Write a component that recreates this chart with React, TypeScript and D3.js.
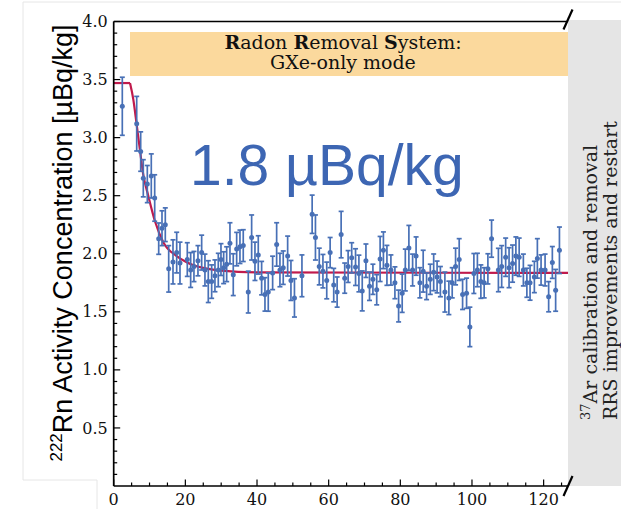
import React from "react";
import * as d3 from "d3";

// ---- data ----
const days = [
  2.4, 6.42, 7.53, 8.26, 9.38, 10.49, 11.44, 12.56, 13.48, 14.4,
  15.35, 16.55, 17.58, 18.5, 20.54, 21.48, 22.4, 23.52, 24.55, 25.47,
  26.4, 27.34, 28.26, 29.19, 29.94, 30.69, 31.53, 32.45, 33.37, 34.32,
  35.24, 36.16, 37.56, 38.5, 39.43, 40.35, 41.29, 42.22, 43.14, 44.36,
  45.48, 46.4, 47.32, 48.55, 49.47, 50.45, 52.54, 55.39, 56.31, 57.37,
  58.4, 59.46, 60.41, 61.41, 62.36, 63.48, 64.48, 65.43, 66.43, 67.5,
  68.44, 69.37, 70.4, 71.4, 72.35, 73.41, 74.36, 75.28, 76.26, 77.37,
  78.49, 79.52, 80.52, 81.39, 82.39, 83.43, 84.4, 85.46, 86.38, 87.33,
  88.36, 89.31, 90.26, 91.18, 92.44, 93.55, 94.48, 95.42, 96.43, 97.38,
  98.49, 99.41, 100.53, 101.51, 102.48, 103.4, 104.44, 105.47, 107.37, 108.29,
  109.4, 110.35, 111.33, 112.25, 113.17, 114.34, 115.32, 116.21, 117.41, 118.25,
  119.28, 120.4, 121.4, 122.43, 123.35, 124.41,
];
const activity = [
  3.27, 3.12, 2.88, 2.65, 2.6, 2.67, 2.48, 2.13, 2.22, 2.25,
  1.87, 1.93, 2.01, 1.92, 1.95, 1.86, 1.89, 1.94, 2.01, 1.86,
  1.76, 1.76, 1.81, 1.86, 1.95, 1.88, 1.91, 2.09, 1.82, 2.04,
  2.06, 2.07, 1.67, 2.14, 1.935, 1.99, 1.79, 1.65, 1.67, 1.835,
  2.08, 1.86, 1.88, 1.98, 1.77, 1.62, 1.81, 2.34, 2.14, 1.89,
  1.85, 1.77, 2.01, 1.73, 1.67, 2.165, 1.79, 1.89, 1.965, 1.885,
  1.83, 1.68, 1.94, 1.72, 1.78, 1.69, 1.955, 2.03, 1.9, 1.86,
  1.75, 1.55, 1.66, 1.86, 2.05, 1.86, 1.98, 1.75, 1.85, 1.72,
  1.78, 1.84, 1.8, 1.76, 1.67, 1.62, 1.75, 1.89, 1.95, 1.65,
  1.66, 1.37, 1.83, 1.86, 1.76, 1.75, 1.87, 2.13, 1.86, 1.89,
  1.97, 1.88, 1.915, 1.98, 1.97, 1.86, 1.75, 1.75, 1.8, 1.96,
  1.86, 1.86, 1.63, 1.925, 1.685, 2.03,
];
const activityErr = [
  0.25, 0.235, 0.17, 0.16, 0.16, 0.19, 0.2, 0.135, 0.15, 0.145,
  0.2, 0.19, 0.175, 0.18, 0.145, 0.15, 0.13, 0.13, 0.15, 0.137,
  0.18, 0.144, 0.137, 0.144, 0.137, 0.137, 0.15, 0.177, 0.18, 0.144,
  0.144, 0.137, 0.18, 0.194, 0.165, 0.165, 0.144, 0.144, 0.165, 0.144,
  0.187, 0.144, 0.144, 0.172, 0.172, 0.165, 0.18, 0.165, 0.194, 0.158,
  0.144, 0.158, 0.13, 0.144, 0.13, 0.2, 0.13, 0.137, 0.13, 0.158,
  0.158, 0.172, 0.144, 0.122, 0.13, 0.13, 0.194, 0.158, 0.172, 0.13,
  0.137, 0.137, 0.165, 0.18, 0.194, 0.137, 0.165, 0.13, 0.18, 0.115,
  0.13, 0.158, 0.137, 0.13, 0.172, 0.144, 0.13, 0.158, 0.18, 0.13,
  0.13, 0.17, 0.172, 0.144, 0.144, 0.13, 0.13, 0.16, 0.187, 0.18,
  0.165, 0.172, 0.16, 0.165, 0.165, 0.137, 0.125, 0.15, 0.135, 0.17,
  0.13, 0.137, 0.13, 0.137, 0.18, 0.2,
];
// fitted model curve
const plateauX = [0, 4.55];
const plateauY = [3.47, 3.47];
const decayX = [4.55, 5.47, 6.42, 7.34, 8.26, 9.65, 11.52, 13.84, 17.58, 20.5, 24.64, 30, 40, 126.8];
const decayY = [3.47, 3.33, 3.11, 2.89, 2.68, 2.5, 2.28, 2.1, 1.98, 1.925, 1.88, 1.855, 1.84, 1.835];

const xMajorTicks = [0, 20, 40, 60, 80, 100, 120];
const yMajorTicks = [0.5, 1.0, 1.5, 2.0, 2.5, 3.0, 3.5, 4.0];
const X_MAX = 126.8;
const Y_MAX = 4;

const boxLine1 = [
  { t: "R", b: true }, { t: "adon ", b: false },
  { t: "R", b: true }, { t: "emoval ", b: false },
  { t: "S", b: true }, { t: "ystem:", b: false },
];
const boxLine2 = "GXe-only mode";
const bigText = "1.8 µBq/kg";
const sideLine1 = "Ar calibration and removal";
const sideLine2 = "RRS improvements and restart";

const BLUE = "#4870b6";
const RED = "#c01a4c";
const SERIF = "'DejaVu Serif', serif";
const SANS = "'Liberation Sans', Arial, sans-serif";

export default function App() {
  const W = 621, H = 509;
  const left = 113.7, right = 568, top = 21.5, bottom = 486;
  const x = d3.scaleLinear().domain([0, X_MAX]).range([left, right]);
  const y = d3.scaleLinear().domain([0, Y_MAX]).range([bottom, top]);

  const xMinor = d3.range(0, 126, 5).filter((v) => v % 20 !== 0);
  const yMinor = d3.range(1, 40).map((v) => v / 10).filter((v) => Math.round(v * 10) % 5 !== 0);

  const plateauPath = d3
    .line<[number, number]>()
    .x((d) => x(d[0]))
    .y((d) => y(d[1]))(plateauX.map((v, i) => [v, plateauY[i]]));
  const decayPath = d3
    .line<[number, number]>()
    .x((d) => x(d[0]))
    .y((d) => y(d[1]))
    .curve(d3.curveMonotoneX)(decayX.map((v, i) => [v, decayY[i]]));

  const points = days.map((d, i) => ({ d, v: activity[i], e: activityErr[i] }));

  return (
    <svg width={W} height={H} style={{ position: "absolute", left: 0, top: 0, background: "#fff" }}>
      {/* faint screenshot frame */}
      <path d="M23,2 H621 M23,2 V480 H97 V509" fill="none" stroke="#e6e6e6" strokeWidth={1} />

      {/* gray band */}
      <rect x={right} y={20} width={W - right} height={bottom - 20} fill="#e5e5e5" />

      {/* orange box */}
      <rect x={130} y={32} width={right - 130} height={44} fill="#fbd99d" />
      <text x={343} y={49} textAnchor="middle" fontFamily={SERIF} fontSize={19} fill="#111">
        {boxLine1.map((s, i) => (
          <tspan key={i} fontWeight={s.b ? "bold" : "normal"}>{s.t}</tspan>
        ))}
      </text>
      <text x={343} y={69} textAnchor="middle" fontFamily={SERIF} fontSize={19} fill="#111">
        {boxLine2}
      </text>

      {/* big label */}
      <text x={190} y={185} fontFamily={SANS} fontSize={57} fill="#3d66b3">{bigText}</text>

      {/* fit curve */}
      <path d={plateauPath || ""} fill="none" stroke={RED} strokeWidth={2.2} />
      <path d={decayPath || ""} fill="none" stroke={RED} strokeWidth={2.2} />

      {/* data with error bars */}
      <g stroke={BLUE} strokeWidth={1.7} fill={BLUE}>
        {points.map((p, i) => {
          const cx = x(p.d);
          const y1 = y(p.v + p.e);
          const y2 = y(p.v - p.e);
          return (
            <g key={i}>
              <line x1={cx} x2={cx} y1={y1} y2={y2} />
              <line x1={cx - 2.5} x2={cx + 2.5} y1={y1} y2={y1} />
              <line x1={cx - 2.5} x2={cx + 2.5} y1={y2} y2={y2} />
              <circle cx={cx} cy={y(p.v)} r={2.5} stroke="none" />
            </g>
          );
        })}
      </g>

      {/* axes */}
      <g stroke="#000" strokeWidth={1.7} fill="none">
        <line x1={left} x2={left} y1={top} y2={bottom} />
        <line x1={left} x2={right} y1={bottom} y2={bottom} />
        <line x1={left} x2={right} y1={top} y2={top} />
        <line x1={right - 4.5} y1={bottom + 10} x2={right + 4.5} y2={bottom - 10} strokeWidth={2.2} />
        <line x1={right - 4.5} y1={top + 8} x2={right + 4.5} y2={top - 12} strokeWidth={2.2} />
      </g>
      <g stroke="#000" strokeWidth={1.2}>
        {yMajorTicks.map((v) => (
          <line key={"ym" + v} x1={left} x2={left + 6.5} y1={y(v)} y2={y(v)} />
        ))}
        {yMinor.map((v) => (
          <line key={"yn" + v} x1={left} x2={left + 3.5} y1={y(v)} y2={y(v)} />
        ))}
        {xMajorTicks.map((v) => (
          <line key={"xm" + v} x1={x(v)} x2={x(v)} y1={bottom} y2={bottom - 6.5} />
        ))}
        {xMinor.map((v) => (
          <line key={"xn" + v} x1={x(v)} x2={x(v)} y1={bottom} y2={bottom - 3.5} />
        ))}
      </g>
      <g fontFamily={SERIF} fontSize={16} fill="#111">
        {yMajorTicks.map((v) => (
          <text key={"yl" + v} x={left - 6} y={y(v) + 5.6} textAnchor="end">{v.toFixed(1)}</text>
        ))}
        {xMajorTicks.map((v) => (
          <text key={"xl" + v} x={x(v)} y={505} textAnchor="middle">{v}</text>
        ))}
      </g>

      {/* y axis label */}
      <text transform="translate(72,243) rotate(-90)" textAnchor="middle" fontFamily={SANS} fontSize={27} fill="#000">
        <tspan fontSize={17} dy={-10}>222</tspan>
        <tspan dy={10}>Rn Activity Concentration [µBq/kg]</tspan>
      </text>

      {/* side annotation */}
      <text transform="translate(597,420) rotate(-90)" fontFamily={SERIF} fontSize={19} fill="#222">
        <tspan fontSize={13} dy={-7}>37</tspan>
        <tspan dy={7}>{sideLine1}</tspan>
      </text>
      <text transform="translate(617,420) rotate(-90)" fontFamily={SERIF} fontSize={19} fill="#222">
        {sideLine2}
      </text>
    </svg>
  );
}
